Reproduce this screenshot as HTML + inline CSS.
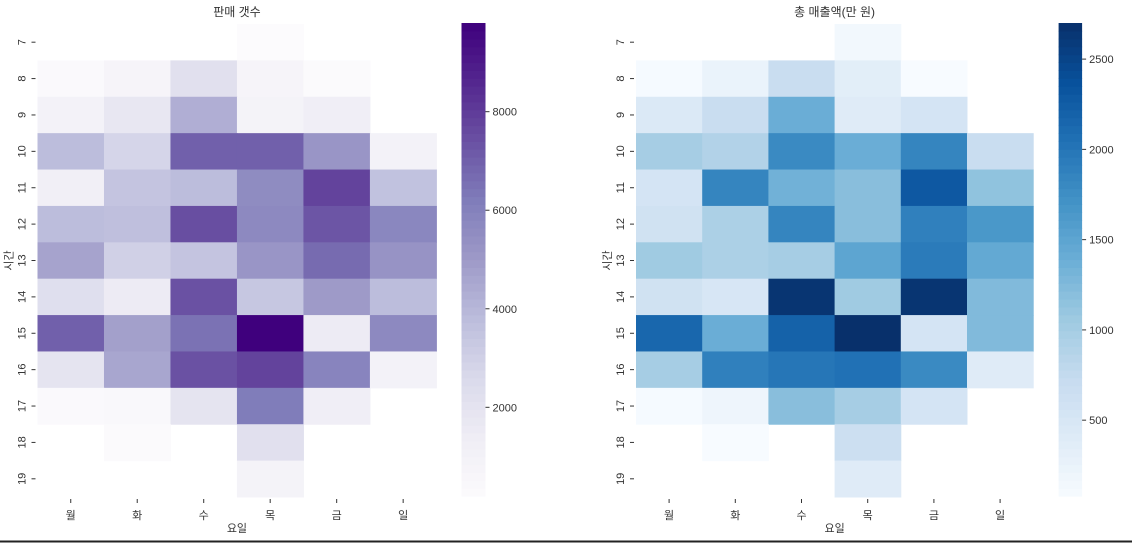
<!DOCTYPE html>
<html><head><meta charset="utf-8">
<style>
html,body{margin:0;padding:0;background:#fff;}
svg{display:block;font-family:"Liberation Sans","Noto Sans CJK KR",sans-serif;}
</style></head>
<body>
<svg id="c" width="1132" height="543" viewBox="0 0 1132 543" xmlns="http://www.w3.org/2000/svg">
<rect x="0" y="0" width="1132" height="543" fill="#fff"/>
<line x1="0" y1="541.5" x2="1132" y2="541.5" stroke="#222" stroke-width="2"/>
</svg>
<script>
const days = ['월','화','수','목','금','일'];
const hours = [7,8,9,10,11,12,13,14,15,16,17,18,19];
const N = null;
const countValues = [
 [N,N,N,200,N,N],
 [400,800,2200,800,300,N],
 [1000,1800,4300,900,1300,N],
 [3800,2800,7000,7000,5200,1000],
 [1200,3500,3800,5600,7800,3600],
 [3800,3700,7500,5700,7300,5800],
 [4700,3000,3500,5200,6700,5300],
 [2300,1500,7400,3400,5000,3800],
 [7000,4800,6500,9800,1500,5700],
 [2000,4600,7400,7800,5900,1000],
 [400,500,2000,6200,1300,N],
 [N,300,N,2200,N,N],
 [N,N,N,900,N,N]
];
const salesValues = [
 [N,N,N,150,N,N],
 [100,250,700,350,80,N],
 [450,700,1400,400,550,N],
 [1000,900,1800,1400,1850,700],
 [550,1850,1350,1200,2300,1150],
 [600,950,1850,1200,1900,1650],
 [1050,950,1000,1500,1950,1450],
 [600,500,2650,1050,2650,1250],
 [2150,1400,2200,2700,550,1250],
 [1000,1900,2000,2050,1800,400],
 [100,200,1200,1000,550,N],
 [N,80,N,650,N,N],
 [N,N,N,400,N,N]
];
const countTicks = [2000,4000,6000,8000];
const salesTicks = [500,1000,1500,2000,2500];

const purples = ['#fcfbfd','#efedf5','#dadaeb','#bcbddc','#9e9ac8','#807dba','#6a51a3','#54278f','#3f007d'];
const blues = ['#f7fbff','#deebf7','#c6dbef','#9ecae1','#6baed6','#4292c6','#2171b5','#08519c','#08306b'];

function hex(c){return [1,3,5].map(i=>parseInt(c.substr(i,2),16));}
function cmap(stops,t){
  t=Math.max(0,Math.min(1,t));
  const p=t*(stops.length-1), i=Math.min(Math.floor(p),stops.length-2), f=p-i;
  const a=hex(stops[i]), b=hex(stops[i+1]);
  return 'rgb('+a.map((v,k)=>Math.round(v+(b[k]-v)*f)).join(',')+')';
}
const svg=document.getElementById('c');
const NS='http://www.w3.org/2000/svg';
function el(tag,attrs,text){
  const e=document.createElementNS(NS,tag);
  for(const k in attrs) e.setAttribute(k,attrs[k]);
  if(text!==undefined) e.textContent=text;
  svg.appendChild(e); return e;
}
function drawPanel(o){
  const vals=o.values;
  let mn=Infinity,mx=-Infinity;
  vals.forEach(r=>r.forEach(v=>{if(v!==null){mn=Math.min(mn,v);mx=Math.max(mx,v);}}));
  const cw=(o.x1-o.x0)/days.length, rh=(o.y1-o.y0)/hours.length;
  const xs=i=>o.x0+i*cw, ys=j=>o.y0+j*rh;
  vals.forEach((row,j)=>row.forEach((v,i)=>{
    if(v===null) return;
    const r=el('rect',{x:xs(i),y:ys(j),width:cw+0.5,height:rh+0.5,fill:cmap(o.stops,(v-mn)/(mx-mn))});
    
    
  }));
  days.forEach((d,i)=>{
    const cx=xs(i)+cw/2;
    el('line',{x1:cx,y1:o.y1+2,x2:cx,y2:o.y1+6,stroke:'#333','stroke-width':1});
    const t=el('text',{x:cx,y:o.y1+22,'text-anchor':'middle','font-size':11,fill:'#333'},d);
    
    
  });
  hours.forEach((h,j)=>{
    const cy=ys(j)+rh/2;
    el('line',{x1:o.x0-6,y1:cy,x2:o.x0-2,y2:cy,stroke:'#333','stroke-width':1});
    const t=el('text',{x:0,y:0,'text-anchor':'middle','font-size':11,fill:'#333',transform:'translate('+(o.x0-12)+','+cy+') rotate(-90)'},String(h));
    
    
  });
  const tt=el('text',{x:(o.x0+o.x1)/2,y:16,'text-anchor':'middle','font-size':12,fill:'#333'},o.title);
  
  
  const xl=el('text',{x:(o.x0+o.x1)/2,y:532,'text-anchor':'middle','font-size':11,fill:'#333'},'요일');
  
  
  const yl=el('text',{x:0,y:0,'text-anchor':'middle','font-size':11,fill:'#333',transform:'translate('+(o.x0-25)+','+((o.y0+o.y1)/2)+') rotate(-90)'},'시간');
  
  
  // colorbar
  const n=60, ch=(o.cb1-o.cb0)/n;
  for(let k=0;k<n;k++){
    el('rect',{x:o.cbx,y:o.cb1-(k+1)*ch,width:o.cbw,height:ch+0.6,fill:cmap(o.stops,(k+0.5)/n)});
  }
  const cbscale=v=>o.cb1-(v-mn)/(mx-mn)*(o.cb1-o.cb0);
  o.ticks.forEach(tv=>{
    const y=cbscale(tv);
    el('line',{x1:o.cbx+o.cbw,y1:y,x2:o.cbx+o.cbw+4,y2:y,stroke:'#333','stroke-width':1});
    const t=el('text',{x:o.cbx+o.cbw+7,y:y+4,'font-size':11,fill:'#333'},String(tv));
    
    
  });
}
drawPanel({prefix:'count',title:'판매 갯수',values:countValues,stops:purples,ticks:countTicks,x0:37.5,x1:436.4,y0:24,y1:497,cbx:461.5,cbw:24,cb0:23,cb1:496});
drawPanel({prefix:'sales',title:'총 매출액(만 원)',values:salesValues,stops:blues,ticks:salesTicks,x0:636,x1:1033.2,y0:24,y1:497,cbx:1058.6,cbw:23.5,cb0:23,cb1:496});
</script>
</body></html>
